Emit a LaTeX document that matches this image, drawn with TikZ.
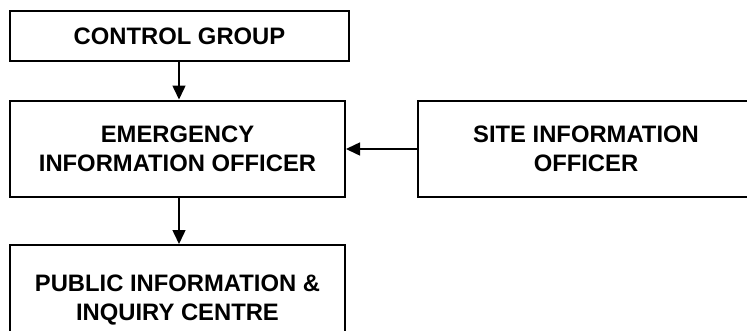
\documentclass[tikz,border=0pt]{standalone}
\usepackage{fontspec}
\setmainfont{Liberation Sans}
\usetikzlibrary{arrows.meta}
\begin{document}
\begin{tikzpicture}[x=1pt,y=-1pt,
  box/.style={draw=black,line width=2pt,rectangle,inner sep=0pt,align=center,
    font=\fontsize{23.8}{29}\selectfont\bfseries},
  arr/.style={line width=1.5pt,-{Triangle[length=14pt,width=13pt]}}]
\useasboundingbox (0,0) rectangle (747,330);
\clip (0,0) rectangle (747,330);
\node[box,minimum width=339pt,minimum height=50pt] (ctrl) at (179.5,36) {CONTROL GROUP};
\node[box,minimum width=335pt,minimum height=96pt] (emerg) at (177.5,148.5) {EMERGENCY\\INFORMATION OFFICER};
\node[box,minimum width=336pt,minimum height=96pt] (site) at (586,149) {SITE INFORMATION\\OFFICER};
\node[box,minimum width=335pt,minimum height=110pt] (pub) at (177.5,300) {PUBLIC INFORMATION \&\\INQUIRY CENTRE};
\draw[arr] ([xshift=-0.5pt]ctrl.south) -- ([xshift=-0.5pt]ctrl.south |- emerg.north);
\draw[arr] (site.west) -- (site.west -| emerg.east);
\draw[arr] ([xshift=-0.5pt]ctrl.south |- emerg.south) -- ([xshift=-0.5pt]ctrl.south |- pub.north);
\end{tikzpicture}
\end{document}
